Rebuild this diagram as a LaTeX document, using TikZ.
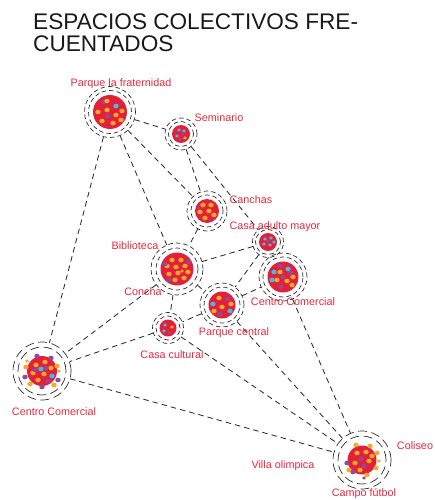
\documentclass[tikz,border=0pt]{standalone}
\usepackage{fontspec}
\setmainfont{Liberation Sans}
\definecolor{lblred}{RGB}{232,40,62}
\definecolor{spotred}{RGB}{226,32,58}
\definecolor{dotor}{RGB}{246,168,40}
\definecolor{dotpu}{RGB}{150,72,150}
\definecolor{dotcy}{RGB}{64,190,232}
\definecolor{linegray}{RGB}{45,45,45}
\definecolor{titlegray}{RGB}{25,25,25}
\newcommand\dO[2]{\fill[dotor] (#1,#2) ellipse (2.7pt and 2.3pt);}
\newcommand\dP[2]{\fill[dotpu] (#1,#2) ellipse (2.7pt and 2.3pt);}
\newcommand\dC[2]{\fill[dotcy] (#1,#2) ellipse (2.7pt and 2.3pt);}
\newcommand\sO[2]{\fill[dotor] (#1,#2) ellipse (1.9pt and 1.7pt);}
\newcommand\sP[2]{\fill[dotpu] (#1,#2) ellipse (1.9pt and 1.7pt);}
\newcommand\sC[2]{\fill[dotcy] (#1,#2) ellipse (1.9pt and 1.7pt);}
\begin{document}
\begin{tikzpicture}[x=1pt,y=-1pt,
  link/.style={draw=linegray, line width=0.85pt, dash pattern=on 5.5pt off 4pt},
  ring/.style={draw=linegray, line width=0.7pt, dash pattern=on 4.5pt off 3pt},
  ringbig/.style={draw=linegray, line width=0.7pt, dash pattern=on 9pt off 4.5pt},
  lbl/.style={text=lblred, font=\fontsize{10.8}{12}\selectfont, inner sep=0pt},
  titletext/.style={text=titlegray, font=\fontsize{22.6}{23}\selectfont, inner sep=0pt, anchor=base west},
  hub/.style={circle, inner sep=0pt, minimum size=#1}]
\useasboundingbox (0,0) rectangle (434,500);

% title
\node[titletext] (t1) at (33,30) {ESPACIOS COLECTIVOS FRE-};
\node[titletext] (t2) at (33,52) {CUENTADOS};

% hub nodes (outer ring size)
\node[hub=51pt] (pf)  at (110,112) {};
\node[hub=32pt] (sem) at (181,134) {};
\node[hub=40pt] (can) at (207,211) {};
\node[hub=31pt] (cam) at (268,242) {};
\node[hub=52pt] (bib) at (177,269) {};
\node[hub=48pt] (ccr) at (283,277) {};
\node[hub=44pt] (pc)  at (222,305) {};
\node[hub=31pt] (cc)  at (168,328) {};
\node[hub=58pt] (ccl) at (42,371) {};
\node[hub=58pt] (cf)  at (362,460) {};

% connectors
\draw[link] (pf) -- (sem);
\draw[link] (pf) -- (can);
\draw[link] (pf) -- (bib);
\draw[link] (pf) -- (ccl);
\draw[link] (sem) -- (can);
\draw[link] (sem) -- (cam);
\draw[link] (can) -- (bib);
\draw[link] (bib) -- (cam);
\draw[link] (bib) -- (ccl);
\draw[link] (bib) -- (cc);
\draw[link] (bib) -- (pc);
\draw[link] (cam) -- (pc);
\draw[link] (pc) -- (ccr);
\draw[link] (pc) -- (cc);
\draw[link] (cc) -- (ccl);
\draw[link] (ccl) -- (cf);
\draw[link] (cc) -- (cf);
\draw[link] (pc) -- (cf);
\draw[link] (ccr) -- (cf);

% Parque la fraternidad
\begin{scope}[shift={(110,112)}]
\fill[spotred] (0,0) circle (17pt);
\draw[ring] (0,0) circle (21.5pt); \draw[ring] (0,0) circle (25.5pt);
\dP{-6}{-10} \dC{6}{-6} \dO{-12}{0} \dO{-3}{-2} \dO{6}{3} \dO{-8}{9} \dO{3}{11} \dO{12}{-1} \dO{11}{8} \dP{-2}{4} \dO{-3}{-11}
\end{scope}

% Seminario
\begin{scope}[shift={(181,134)}]
\fill[spotred] (0,0) circle (9pt);
\draw[ring] (0,0) circle (12.5pt); \draw[ring] (0,0) circle (16pt);
\sC{-2}{-4} \sP{2}{0} \sC{-4}{2} \sO{4}{4} \sC{3}{-3} \sP{-1}{5}
\end{scope}

% Canchas
\begin{scope}[shift={(207,211)}]
\fill[spotred] (0,0) circle (12pt);
\draw[ring] (0,0) circle (16pt); \draw[ring] (0,0) circle (20pt);
\dO{-4}{-6} \dO{4}{-6} \dO{-7}{1} \dO{2}{0} \dO{7}{4} \dO{-2}{7} \sP{-8}{-3} \sP{5}{9}
\end{scope}

% Casa adulto mayor
\begin{scope}[shift={(268,242)}]
\fill[spotred] (0,0) circle (9pt);
\draw[ring] (0,0) circle (12.5pt); \draw[ring] (0,0) circle (15.5pt);
\sC{-3}{-3} \sC{3}{-4} \sC{-4}{2} \sC{2}{3} \sC{6}{0} \sP{0}{-1}
\end{scope}

% Biblioteca
\begin{scope}[shift={(177,269)}]
\fill[spotred] (0,0) circle (16.5pt);
\draw[ring] (0,0) circle (21pt); \draw[ring] (0,0) circle (26pt);
\dO{-5}{-9} \dO{4}{-9} \dO{-10}{-3} \dO{-1}{-2} \dO{8}{-3} \dO{11}{3} \dO{-8}{5} \dO{1}{4} \dO{7}{9} \dO{-2}{11}
\dP{-12}{-5} \dP{12}{-7} \dP{-8}{11} \sO{5}{2}
\end{scope}

% Centro Comercial (right)
\begin{scope}[shift={(283,277)}]
\fill[spotred] (0,0) circle (15.5pt);
\draw[ring] (0,0) circle (20pt); \draw[ring] (0,0) circle (24pt);
\dC{-9}{-5} \dC{5}{-8} \dO{-3}{-5} \dO{10}{0} \dO{-6}{3} \dO{4}{4} \dO{9}{8} \dP{-2}{10} \dP{-3}{-11} \dP{0}{0} \dC{-11}{3} \dP{8}{-4}
\end{scope}

% Parque central
\begin{scope}[shift={(222,305)}]
\fill[spotred] (0,0) circle (13.5pt);
\draw[ring] (0,0) circle (18pt); \draw[ring] (0,0) circle (22pt);
\dO{-3}{-7} \dP{6}{-6} \dO{0}{2} \dC{-9}{-1} \dO{-8}{6} \dP{-2}{9} \dC{8}{6} \dO{9}{-1}
\end{scope}

% Casa cultural
\begin{scope}[shift={(168,328)}]
\fill[spotred] (0,0) circle (8.5pt);
\draw[ring] (0,0) circle (12pt); \draw[ring] (0,0) circle (15.5pt);
\sC{-3}{-3} \sC{-4}{3} \sO{4}{-1} \sP{1}{5}
\end{scope}

% Centro Comercial (left)
\begin{scope}[shift={(42,371)}]
\fill[spotred] (0,0) circle (15pt);
\draw[ringbig] (0,0) circle (24pt); \draw[ringbig] (0,0) circle (29pt);
\dO{-6}{-6} \dO{3}{-9} \dO{9}{-3} \dC{-1}{-2} \dO{-9}{2} \dO{2}{3} \dC{10}{5} \dO{-4}{9} \dP{6}{10} \dP{-7}{-1} \dP{4}{-3}
\dP{-5}{-15} \dO{-16}{-4} \dP{-17}{6} \dO{-12}{13} \dP{0}{16} \dO{12}{14} \dP{16}{9} \dO{15}{-5} \dP{9}{-13} \sO{17}{0} \sO{-15}{-10}
\end{scope}

% Campo futbol / Coliseo / Villa olimpica
\begin{scope}[shift={(362,460)}]
\fill[spotred] (0,0) circle (14.5pt);
\draw[ringbig] (0,0) circle (24pt); \draw[ringbig] (0,0) circle (29pt);
\dO{-5}{-7} \dO{4}{-8} \dP{-1}{-1} \dO{7}{1} \dO{-7}{3} \dP{2}{6} \dO{-2}{10} \dO{10}{-4}
\dO{-6}{-15} \dO{8}{-14} \dO{15}{-7} \dP{-15}{3} \dO{-13}{10} \dP{-9}{12} \dO{5}{15} \dO{14}{8} \sP{2}{18} \sO{17}{1}
\end{scope}

% labels
\node[lbl] (lpf)  at (121,84)  {Parque la fraternidad};
\node[lbl] (lsem) at (219,118) {Seminario};
\node[lbl] (lcan) at (251,200) {Canchas};
\node[lbl] (lcam) at (275,227) {Casa adulto mayor};
\node[lbl] (lbib) at (135,246) {Biblioteca};
\node[lbl] (lcon) at (143,292) {Concha};
\node[lbl] (lccr) at (293,302) {Centro Comercial};
\node[lbl] (lpc)  at (234,333) {Parque central};
\node[lbl] (lcc)  at (172,355) {Casa cultural};
\node[lbl] (lccl) at (54,412)  {Centro Comercial};
\node[lbl] (lcol) at (415,446) {Coliseo};
\node[lbl] (lvo)  at (283,466) {Villa olimpica};
\node[lbl] (lcf)  at (364,494) {Campo fútbol};
\end{tikzpicture}
\end{document}
